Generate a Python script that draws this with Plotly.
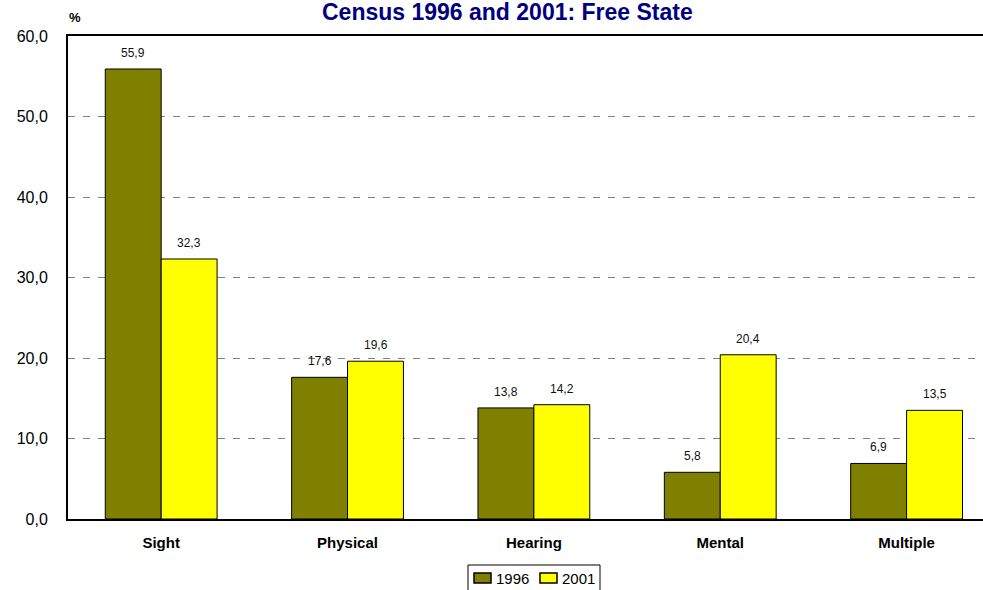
import plotly.graph_objects as go

categories = ['Sight', 'Physical', 'Hearing', 'Mental', 'Multiple']
years = ['1996', '2001']
values_1996 = [55.9, 17.6, 13.8, 5.8, 6.9]
values_2001 = [32.3, 19.6, 14.2, 20.4, 13.5]
colours = ['#808000', '#FFFF00']

W, H = 983, 590
L, R, T, B = 68, 0, 36, 71


def fmt(v):
    return f'{v:.1f}'.replace('.', ',')


def px(x):
    # page pixel -> paper x
    return (x - L) / (W - L - R)


def py(y):
    # page pixel -> paper y
    return (H - B - y) / (H - T - B)


labels = [f'<b>{c}</b>' for c in categories]

fig = go.Figure()
for name, vals, colour, shift in [(years[0], values_1996, colours[0], -28),
                                  (years[1], values_2001, colours[1], 28)]:
    fig.add_trace(go.Bar(
        x=labels,
        y=vals,
        name=name,
        marker=dict(color=colour, line=dict(color='black', width=1)),
    ))
    # value labels above the bars
    for lab, v in zip(labels, vals):
        fig.add_annotation(
            x=lab, y=v, xref='x', yref='y', xshift=shift, yshift=16,
            text=fmt(v), showarrow=False, xanchor='center', yanchor='middle',
            font=dict(family='Arial', size=12, color='#111111'),
        )

fig.update_layout(
    width=W, height=H,
    margin=dict(l=L, r=R, t=T, b=B, autoexpand=False),
    paper_bgcolor='white', plot_bgcolor='white',
    barmode='group', bargap=0.4, bargroupgap=0,
    separators=',.',
    font=dict(family='Arial', size=12, color='black'),
    showlegend=False,
)

fig.update_xaxes(
    range=[-0.5, 4.41], automargin=False,
    showline=True, linecolor='black', linewidth=2, mirror=True,
    ticks='', ticklabelstandoff=9,
    tickfont=dict(family='Arial', size=15, color='black'),
)
fig.update_yaxes(
    range=[0, 60], dtick=10, tickformat='.1f', automargin=False,
    showline=True, linecolor='black', linewidth=2,
    showgrid=True, gridcolor='#808080', griddash='7px,8px', gridwidth=1,
    zeroline=False,
    ticks='', ticklabelstandoff=15,
    tickfont=dict(family='Arial', size=16, color='black'),
)

# title and unit label
fig.add_annotation(
    text='<b>Census 1996 and 2001: Free State</b>',
    xref='paper', yref='paper', x=px(507), y=py(12),
    xanchor='center', yanchor='middle', showarrow=False,
    font=dict(family='Arial', size=23, color='#000080'),
)
fig.add_annotation(
    text='<b>%</b>', xref='paper', yref='paper', x=px(67), y=py(18),
    xanchor='left', yanchor='middle', showarrow=False,
    font=dict(family='Arial', size=13, color='black'),
)

# legend box drawn below the axis
fig.add_shape(type='rect', xref='paper', yref='paper',
              x0=px(468), x1=px(600), y0=py(565), y1=py(600),
              line=dict(color='black', width=1), fillcolor='white')
for i, (yr, col) in enumerate(zip(years, colours)):
    x0 = 474 + i * 66
    fig.add_shape(type='rect', xref='paper', yref='paper',
                  x0=px(x0), x1=px(x0 + 17), y0=py(583), y1=py(573),
                  line=dict(color='black', width=1.5), fillcolor=col)
    fig.add_annotation(
        text=yr, xref='paper', yref='paper', x=px(x0 + 20), y=py(578),
        xanchor='left', yanchor='middle', showarrow=False,
        font=dict(family='Arial', size=15, color='black'),
    )

fig.write_html('out.html', config={'displayModeBar': False},
               post_script="document.body.style.margin='0px';")
